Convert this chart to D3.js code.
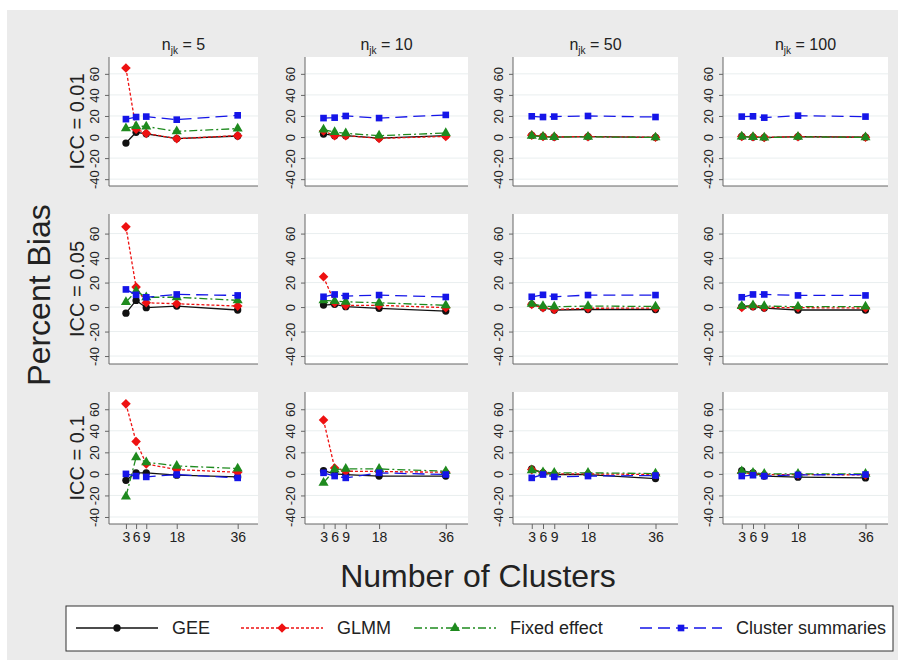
<!DOCTYPE html>
<meta charset="utf-8">
<html>
<head>
<script src="https://d3js.org/d3.v7.min.js"></script>
<style>
  body { margin: 0; background: #fff; }
  text, tspan { font-family: "Liberation Sans", Arial, sans-serif; fill: #222; }
</style>
</head>
<body>
<svg id="chart" width="905" height="666"></svg>
<script>
// x values (number of clusters) and labels
var clusters = [3, 6, 9, 18, 36];
var clusterTicks = ["3", "6", "9", "18", "36"];
var njkLabels = ["5", "10", "50", "100"];
var iccLabels = ["ICC = 0.01", "ICC = 0.05", "ICC = 0.1"];
var yTicks = [-40, -20, 0, 20, 40, 60];
var seriesNames = ["GEE", "GLMM", "Fixed effect", "Cluster summaries"];

// percent bias, one row per n_jk (5, 10, 50, 100)
var gee_icc001 = [[-5.7, 4.5, 3, -1.5, 1], [2.9, 1.3, 1.3, -1, 1.3], [1.5, 0.5, 0, 0.3, -0.3], [0.5, 0, -0.5, 0.3, -0.2]];
var glmm_icc001 = [[65.5, 7.5, 3.5, -1.6, 1.3], [5.7, 1.3, 1.3, -1.3, 0.6], [1.8, 0.6, 0.2, 0.4, -0.2], [0.6, 0.2, -0.3, 0.4, -0.1]];
var fixed_icc001 = [[8.3, 10.5, 10, 5.4, 8], [7, 4.8, 3.5, 1.3, 3.8], [1.2, 0.3, 0, 0.2, -0.4], [0.4, 0, -0.6, 0.2, -0.3]];
var cluster_icc001 = [[17, 19, 19.4, 16.5, 20.6], [18, 18.4, 20, 18, 21], [19.7, 19, 19.4, 20, 19], [19.4, 19.7, 18.4, 20.3, 19.4]];

var gee_icc005 = [[-5, 5.4, -0.5, 0.8, -2.4], [1.6, 2.2, 0.3, -1, -3.3], [2.2, -0.5, -2.4, -2, -2], [0.3, 0.3, -0.8, -2.4, -2.4]];
var glmm_icc005 = [[65.5, 16.3, 3.5, 2.7, 0.8], [24.7, 3.5, 1.4, 1.4, -0.5], [2.2, -0.5, -2, -1, -0.8], [-0.3, 0.8, -0.3, -0.5, -0.8]];
var fixed_icc005 = [[4, 13, 8, 8, 5.5], [5.4, 4.9, 4.3, 3.5, 1.4], [2.7, 0.8, 0.3, 0.8, 0.5], [0.8, 1.4, 0.8, 0.3, 0.3]];
var cluster_icc005 = [[14.4, 10, 8, 10.3, 9.5], [8.4, 10.3, 9, 9.8, 8.2], [8.4, 10, 8.4, 9.8, 9.8], [8, 10.3, 10.3, 9.5, 9.5]];

var gee_icc01 = [[-6, 1, 1, -1.2, -2.8], [3, 0, -0.6, -2, -2], [4.6, 1, -0.6, -0.6, -4.3], [3, 1, -2, -3, -3.7]];
var glmm_icc01 = [[65, 30, 9.2, 4, 1.5], [50, 5.5, 2.5, 2.2, 1.5], [4, 1, 0, 0, -0.6], [1, 0.3, -0.6, -0.6, -0.9]];
var fixed_icc01 = [[-21, 15.4, 10.8, 7.4, 5], [-8.3, 4, 4.6, 4.6, 2.5], [3.4, 1.5, 1, 1, 0.3], [2.5, 1, 0, 0, 0]];
var cluster_icc01 = [[0, -2, -2.8, -0.6, -3.7], [1, -2, -3.7, 1, -0.6], [-3.7, -0.6, -2.8, -2, -1.5], [-2, -1.2, -2, -0.9, -0.6]];

var rowsData = [
    [gee_icc001, glmm_icc001, fixed_icc001, cluster_icc001],
    [gee_icc005, glmm_icc005, fixed_icc005, cluster_icc005],
    [gee_icc01, glmm_icc01, fixed_icc01, cluster_icc01]
];

// styles for each series (diamond = square turned 45 degrees)
var styles = [
    {color: "#111", dash: null, symbol: d3.symbolCircle, size: 42, rot: 0},
    {color: "#ee1111", dash: "3,2", symbol: d3.symbolSquare, size: 46, rot: 45},
    {color: "#1e8a1e", dash: "8,3,2,3", symbol: d3.symbolTriangle, size: 44, rot: 0},
    {color: "#1515e8", dash: "12,6", symbol: d3.symbolSquare, size: 44, rot: 0}
];

var svg = d3.select("#chart");

// gray graph background
svg.append("rect").attr("x", 7).attr("y", 10).attr("width", 891).attr("height", 650)
    .attr("fill", "#ebebeb");

var colX = [[109, 258], [305, 468], [513, 678], [723, 888]];
var rowY = [[57, 186], [214, 364], [392, 524]];

for (var r = 0; r < 3; r++) {
    for (var c = 0; c < 4; c++) {
        var x = d3.scaleLinear().domain([-2, 42]).range(colX[c]);
        var y = d3.scaleLinear().domain([-46.5, 76]).range([rowY[r][1], rowY[r][0]]);
        var g = svg.append("g");

        g.append("rect")
            .attr("x", colX[c][0]).attr("y", rowY[r][0])
            .attr("width", colX[c][1] - colX[c][0]).attr("height", rowY[r][1] - rowY[r][0])
            .attr("fill", "#fff");

        // gridlines
        g.selectAll(".grid").data(yTicks).enter().append("line")
            .attr("x1", colX[c][0]).attr("x2", colX[c][1])
            .attr("y1", function(d) { return y(d); }).attr("y2", function(d) { return y(d); })
            .attr("stroke", "#e9eeef").attr("stroke-width", 1);

        // y axis
        var yAxis = d3.axisLeft(y).tickValues(yTicks).tickSize(4)
            .tickFormat(function(d) { return String(d); });
        var ya = g.append("g").attr("transform", "translate(" + colX[c][0] + ",0)").call(yAxis);
        ya.select(".domain").attr("stroke", "#666").attr("d", "M0," + rowY[r][0] + "V" + rowY[r][1]);
        ya.selectAll(".tick line").attr("stroke", "#666");
        ya.selectAll(".tick text")
            .attr("x", null).attr("dy", null)
            .attr("transform", "translate(-10,0) rotate(-90)")
            .attr("text-anchor", "middle")
            .attr("font-size", 13).attr("fill", "#333")
            .style("font-family", "Liberation Sans, Arial, sans-serif");

        // x axis
        var xAxis = d3.axisBottom(x).tickValues(clusters).tickSize(r == 2 ? 5 : 0)
            .tickFormat(function(d, i) { return r == 2 ? clusterTicks[i] : ""; });
        var xa = g.append("g").attr("transform", "translate(0," + rowY[r][1] + ")").call(xAxis);
        xa.select(".domain").attr("stroke", "#666").attr("d", "M" + colX[c][0] + ",0H" + colX[c][1]);
        xa.selectAll(".tick line").attr("stroke", "#666");
        xa.selectAll(".tick text").attr("font-size", 14).attr("fill", "#333").attr("y", 8)
            .style("font-family", "Liberation Sans, Arial, sans-serif");

        // series
        rowsData[r].forEach(function(series, s) {
            var vals = series[c];
            var st = styles[s];
            var line = d3.line()
                .x(function(d, i) { return x(clusters[i]); })
                .y(function(d) { return y(d); });
            g.append("path").datum(vals)
                .attr("d", line)
                .attr("fill", "none")
                .attr("stroke", st.color)
                .attr("stroke-width", 1.3)
                .attr("stroke-dasharray", st.dash);
            g.selectAll(".m" + s).data(vals).enter().append("path")
                .attr("d", d3.symbol().type(st.symbol).size(st.size))
                .attr("transform", function(d, i) {
                    return "translate(" + x(clusters[i]) + "," + y(d) + ") rotate(" + st.rot + ")";
                })
                .attr("fill", st.color);
        });

        // column titles
        if (r == 0) {
            var t = svg.append("text")
                .attr("x", (colX[c][0] + colX[c][1]) / 2).attr("y", 50)
                .attr("text-anchor", "middle").attr("font-size", 16).attr("fill", "#222");
            t.append("tspan").attr("fill", "#222").text("n");
            t.append("tspan").attr("fill", "#222").attr("font-size", 10).attr("dy", 4).text("jk");
            t.append("tspan").attr("fill", "#222").attr("dy", -4).text(" = " + njkLabels[c]);
        }
    }
    // row labels
    var cy = (rowY[r][0] + rowY[r][1]) / 2;
    svg.append("text")
        .attr("transform", "translate(84," + cy + ") rotate(-90)")
        .attr("text-anchor", "middle").attr("font-size", 20)
        .text(iccLabels[r]);
}

// axis titles
svg.append("text")
    .attr("transform", "translate(50,295) rotate(-90)")
    .attr("text-anchor", "middle").attr("font-size", 32)
    .text("Percent Bias");
svg.append("text")
    .attr("x", 478).attr("y", 587)
    .attr("text-anchor", "middle").attr("font-size", 32)
    .text("Number of Clusters");

// legend
svg.append("rect").attr("x", 66).attr("y", 606).attr("width", 827).attr("height", 45)
    .attr("fill", "#fff").attr("stroke", "#333").attr("stroke-width", 1);
var legX = [76, 241, 414, 640];
seriesNames.forEach(function(name, s) {
    var st = styles[s];
    var lg = svg.append("g").attr("transform", "translate(" + legX[s] + ",628)");
    lg.append("line").attr("x1", 0).attr("x2", 82).attr("y1", 0).attr("y2", 0)
        .attr("stroke", st.color).attr("stroke-width", 1.3).attr("stroke-dasharray", st.dash);
    lg.append("path").attr("d", d3.symbol().type(st.symbol).size(st.size))
        .attr("transform", "translate(41,0) rotate(" + st.rot + ")").attr("fill", st.color);
    lg.append("text").attr("x", 96).attr("y", 6).attr("font-size", 18).text(name);
});
</script>
</body>
</html>
